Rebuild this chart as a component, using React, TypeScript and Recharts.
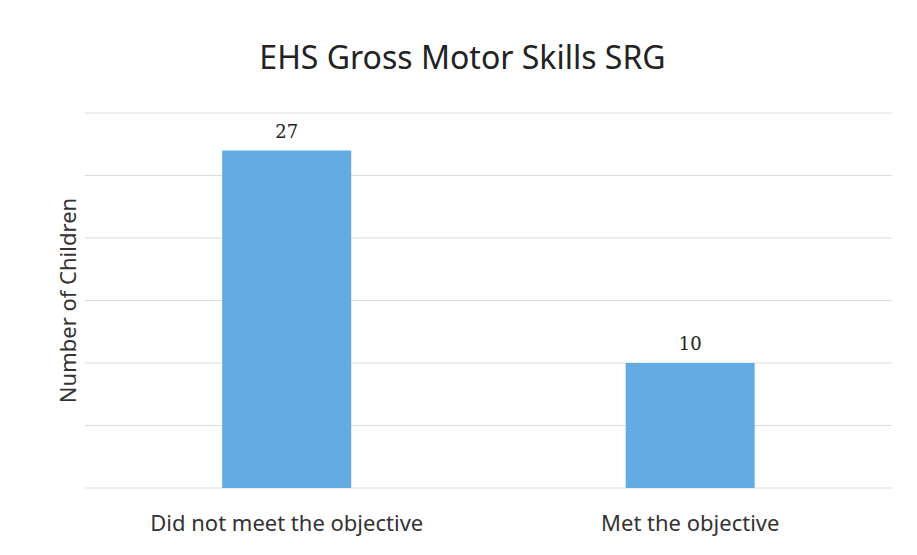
import { BarChart, Bar, XAxis, YAxis, CartesianGrid, LabelList } from "recharts";

const categories = ["Did not meet the objective", "Met the objective"];
const children   = [27, 10];
const yTicks     = [0, 5, 10, 15, 20, 25, 30];

const data = categories.map((name, i) => ({ name, children: children[i] }));

const FONT = "'Noto Sans', 'Open Sans', sans-serif";

export default function App() {
  return (
    <div style={{ position: "fixed", left: 0, top: 0, width: 917, height: 555, background: "#fff", fontFamily: FONT }}>
      <div style={{ position: "absolute", left: 0, top: 35, width: 925, textAlign: "center", fontSize: 32, color: "#222" }}>
        EHS Gross Motor Skills SRG
      </div>
      <BarChart width={917} height={555} data={data}
        margin={{ top: 113, right: 25, left: 0, bottom: 37 }} barCategoryGap="34%">
        <CartesianGrid vertical={false} stroke="#dcdcdc" />
        <XAxis dataKey="name" axisLine={false} tickLine={false} height={30} tickMargin={21}
          tick={{ fontSize: 22, fill: "#333", fontFamily: FONT }} />
        <YAxis domain={[0, 30]} ticks={yTicks} tick={() => <g />} axisLine={false} tickLine={false} width={85}
          label={{ value: "Number of Children", angle: -90, position: "center", dx: 26,
            style: { fontSize: 22, fill: "#333", fontFamily: FONT } }} />
        <Bar dataKey="children" fill="#63abe4" isAnimationActive={false}>
          <LabelList dataKey="children" position="top" offset={13}
            style={{ fontSize: 18, fill: "#222", fontFamily: "'DejaVu Serif', serif" }} />
        </Bar>
      </BarChart>
    </div>
  );
}
